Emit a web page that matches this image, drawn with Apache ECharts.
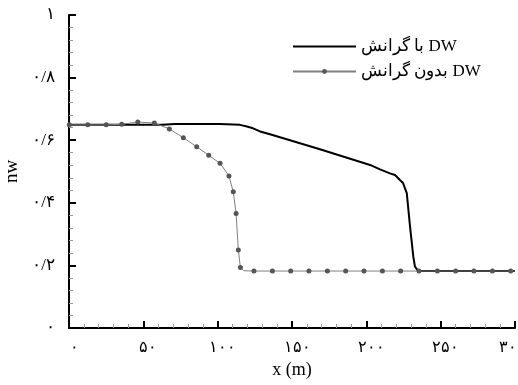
<!DOCTYPE html>
<html>
<head>
<meta charset="utf-8">
<script src="https://cdn.jsdelivr.net/npm/echarts@6/dist/echarts.min.js"></script>
<style>
html,body{margin:0;padding:0;background:#fff;}
#c{width:518px;height:385px;}
</style>
</head>
<body>
<div id="c"></div>
<script>
// ---- data ----
const seriesNames = ['با گرانش DW', 'بدون گرانش DW'];

// "DW with gravity" (black line)
const withGravX = [0, 30, 63, 71, 101.6, 115, 119.7, 123.8, 128.5, 135.2, 168.8, 202.5, 209.2, 215.9, 219.3, 222.6, 224.7, 227.2, 229.4, 231.6, 232.7, 235, 300];
const withGravY = [0.649, 0.649, 0.649, 0.652, 0.652, 0.649, 0.644, 0.638, 0.628, 0.619, 0.571, 0.521, 0.507, 0.494, 0.489, 0.473, 0.463, 0.431, 0.324, 0.228, 0.196, 0.182, 0.182];

// "DW without gravity" (grey line with markers)
const noGravX = [0.2, 12.6, 25, 35.5, 46.3, 57.4, 67.5, 76.9, 85.9, 94, 101.6, 107.6, 110.5, 112.4, 113.9, 115.3, 117.5,
  124.4, 136.8, 149.1, 161.4, 173.8, 186.1, 198.4, 210.8, 223.1, 235.4, 247.8, 260.1, 272.4, 284.8, 297.1, 300];
const noGravY = [0.649, 0.649, 0.649, 0.651, 0.658, 0.655, 0.636, 0.608, 0.579, 0.552, 0.526, 0.486, 0.435, 0.366, 0.249, 0.193, 0.183,
  0.182, 0.182, 0.182, 0.182, 0.182, 0.182, 0.182, 0.182, 0.182, 0.182, 0.182, 0.182, 0.182, 0.182, 0.182, 0.182];
// points of the grey line that carry no marker
const noGravUnmarkedX = [117.5, 300];

const xTickValues = [0, 50, 100, 150, 200, 250, 300];
const xTickLabels = ['۰', '۵۰', '۱۰۰', '۱۵۰', '۲۰۰', '۲۵۰', '۳۰۰'];
const yTickValues = [0, 0.2, 0.4, 0.6, 0.8, 1];
const yTickLabels = ['۰', '۰/۲', '۰/۴', '۰/۶', '۰/۸', '۱'];

const xTitle = 'x (m)';
const yTitle = 'nw';

// ---- chart ----
const font = "'Liberation Serif', 'Times New Roman', serif";
function lookup(vals, labels, v) {
  for (let i = 0; i < vals.length; i++) if (Math.abs(vals[i] - v) < 1e-6) return labels[i];
  return '';
}
const blackData = withGravX.map((x, i) => [x, withGravY[i]]);
const greyData = noGravX.map((x, i) => {
  const item = { value: [x, noGravY[i]] };
  if (noGravUnmarkedX.indexOf(x) >= 0) item.symbol = 'none';
  return item;
});
const xMax = xTickValues[xTickValues.length - 1];

const chart = echarts.init(document.getElementById('c'), null, { renderer: 'canvas' });
chart.setOption({
  animation: false,
  backgroundColor: '#fff',
  grid: { left: 69, right: 3, top: 15, bottom: 57, containLabel: false, outerBoundsMode: 'none' },
  legend: {
    orient: 'vertical',
    left: 292,
    top: 38,
    padding: 0,
    itemWidth: 63,
    itemHeight: 6,
    itemGap: 8,
    textStyle: { fontFamily: font, fontSize: 17, color: '#000' },
    data: [
      { name: seriesNames[0], itemStyle: { color: 'rgba(0,0,0,0)', borderWidth: 0, opacity: 0 } },
      { name: seriesNames[1] }
    ]
  },
  xAxis: {
    type: 'value',
    min: 0, max: 300, interval: 50,
    name: xTitle,
    nameLocation: 'middle',
    nameGap: 33,
    nameTextStyle: { fontFamily: font, fontSize: 18, color: '#000' },
    axisLine: { show: true, lineStyle: { color: '#000', width: 2 } },
    axisTick: { show: true, inside: true, length: 7, lineStyle: { color: '#000', width: 2 } },
    minorTick: { show: true, splitNumber: 5, length: 4, lineStyle: { color: '#999', width: 1 } },
    splitLine: { show: false },
    axisLabel: {
      fontFamily: font, fontSize: 16, color: '#000', margin: 12,
      padding: [0, 0, 0, 10],
      formatter: v => {
        const t = lookup(xTickValues, xTickLabels, v);
        return Math.abs(v - xMax) < 1e-6 ? '{last|' + t + '}' : t;
      },
      rich: { last: { fontFamily: font, fontSize: 16, color: '#000', padding: [0, 15, 0, 0] } }
    }
  },
  yAxis: {
    type: 'value',
    min: 0, max: 1, interval: 0.2,
    name: yTitle,
    nameLocation: 'middle',
    nameRotate: 90,
    nameGap: 47,
    nameTextStyle: { fontFamily: font, fontSize: 19, color: '#000' },
    axisLine: { show: true, lineStyle: { color: '#000', width: 2 } },
    axisTick: { show: true, inside: true, length: 7, lineStyle: { color: '#000', width: 2 } },
    minorTick: { show: true, splitNumber: 5, length: 4, lineStyle: { color: '#999', width: 1 } },
    splitLine: { show: false },
    axisLabel: {
      fontFamily: font, fontSize: 17, color: '#000', margin: 14,
      formatter: v => lookup(yTickValues, yTickLabels, v)
    }
  },
  series: [
    {
      name: seriesNames[0],
      type: 'line',
      data: blackData,
      showSymbol: false,
      symbol: 'none',
      lineStyle: { color: '#000', width: 2 },
      itemStyle: { color: '#000' },
      z: 2
    },
    {
      name: seriesNames[1],
      type: 'line',
      data: greyData,
      symbol: 'circle',
      symbolSize: 5,
      lineStyle: { color: '#808080', width: 1 },
      itemStyle: { color: '#555' },
      z: 3
    }
  ]
});
</script>
</body>
</html>
